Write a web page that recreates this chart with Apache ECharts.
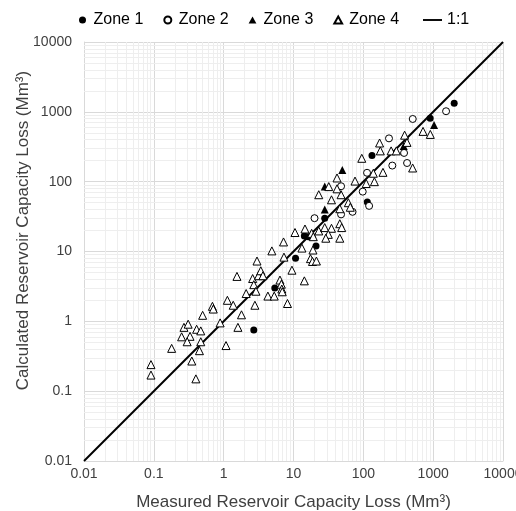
<!DOCTYPE html>
<html>
<head>
<meta charset="utf-8">
<script src="https://cdn.jsdelivr.net/npm/echarts@6/dist/echarts.min.js"></script>
<style>
  html, body { margin: 0; padding: 0; background: #fff; }
  #chart { width: 516px; height: 511px; }
</style>
</head>
<body>
<div id="chart"></div>
<script>
// measured vs calculated capacity loss, [measured, calculated] in Mm3
var zone1 = [
  [2.7, 0.75], [5.4, 3.0], [10.7, 8.0], [14.3, 16.7], [16.3, 16.3],
  [21, 12], [28, 30], [114, 51], [133, 236], [906, 806], [2000, 1330]
]
var zone2 = [
  [20, 30], [48, 34], [48, 86], [70, 37], [98, 72], [113, 134],
  [121, 45], [233, 417], [383, 258], [260, 170], [423, 185],
  [510, 790], [1530, 1020]
]
var zone3 = [
  [50, 147], [28, 85], [28, 40], [1030, 650], [378, 325]
]
var zone4 = [
  [0.091, 0.24], [0.091, 0.17], [0.18, 0.41], [0.25, 0.6], [0.27, 0.82],
  [0.31, 0.91], [0.33, 0.61], [0.30, 0.51], [0.41, 0.77], [0.47, 0.73],
  [0.47, 0.51], [0.45, 0.38], [0.35, 0.27], [0.40, 0.15], [0.5, 1.22],
  [0.69, 1.64], [0.71, 1.5], [0.89, 0.95], [1.08, 0.45], [1.13, 2.0],
  [1.37, 1.7], [1.6, 0.82], [1.8, 1.24], [1.55, 4.4], [2.1, 2.5],
  [2.8, 1.7], [2.6, 4.1], [2.7, 3.35], [2.9, 2.7], [3.0, 7.3],
  [3.15, 4.5], [3.4, 5.3], [3.65, 4.5], [4.3, 2.3], [4.9, 10.2],
  [5.3, 2.3], [6.4, 3.9], [6.7, 3.4], [6.8, 2.9], [6.9, 2.65],
  [7.2, 13.7], [7.3, 8.3], [8.2, 1.8], [9.5, 5.4], [13.2, 11.2],
  [14.3, 3.8], [17.5, 7.9], [18.7, 7.2], [21.3, 7.3], [14.6, 21],
  [10.5, 18.7], [18.2, 18.2], [19.2, 16.3], [23, 19.7], [28, 22],
  [35, 21.5], [31.5, 17.6], [29, 15.5], [46, 15.5], [46, 25],
  [49, 22], [23, 65], [35, 55], [48, 65], [46, 41],
  [42, 113], [42, 79], [32, 85], [61, 50], [65, 43],
  [76, 102], [95, 216], [110, 94], [144, 100], [139, 132],
  [191, 136], [175, 276], [250, 276], [297, 276], [171, 358],
  [508, 157], [390, 463], [422, 365], [716, 525], [910, 475],
  [19, 10.5]
]
var oneToOne = [[0.01, 0.01], [10000, 10000]]
var axisMin = 0.01
var axisMax = 10000

// light minor grid (2..9 of every decade)
var minorX = []
var minorY = []
for (var d = axisMin; d < axisMax; d *= 10) {
  for (var k = 2; k <= 9; k++) {
    var v = +(k * d).toPrecision(3)
    minorX.push({ xAxis: v })
    minorY.push({ yAxis: v })
  }
}

var textColor = '#404040'
var font = 'Liberation Sans, Arial, sans-serif'
var triIcon = 'path://M5,0 L10,9 L0,9 Z'

function plainNum(val) {
  return String(+(+val).toPrecision(6))
}

var chart = echarts.init(document.getElementById('chart'))
chart.setOption({
  animation: false,
  legend: [
    {
      top: 7,
      left: 74,
      itemGap: 20,
      itemWidth: 12,
      itemHeight: 7,
      textStyle: { fontSize: 16, color: '#000', fontFamily: font },
      data: [
        { name: 'Zone 1', icon: 'circle' },
        { name: 'Zone 2', icon: 'circle' },
        { name: 'Zone 3', icon: triIcon },
        { name: 'Zone 4', icon: triIcon }
      ]
    },
    {
      top: 7,
      left: 418,
      itemWidth: 19,
      itemHeight: 7,
      textStyle: { fontSize: 16, color: '#000', fontFamily: font },
      data: [{ name: '1:1', icon: 'path://M0,0 L20,0 L20,2 L0,2 Z' }]
    }
  ],
  grid: { left: 84, right: 13, top: 42, bottom: 50, outerBoundsMode: 'none', containLabel: false },
  xAxis: {
    type: 'log',
    logBase: 10,
    min: axisMin,
    max: axisMax,
    z: 0,
    name: 'Measured Reservoir Capacity Loss (Mm³)',
    nameLocation: 'middle',
    nameMoveOverlap: false,
    nameGap: 33,
    nameTextStyle: { fontSize: 17, color: textColor, fontFamily: font },
    axisLine: { lineStyle: { color: '#d9d9d9' } },
    axisTick: { show: false },
    axisLabel: { fontSize: 14, color: textColor, fontFamily: font, margin: 6, formatter: plainNum },
    splitLine: { show: true, lineStyle: { color: '#d9d9d9' } }
  },
  yAxis: {
    type: 'log',
    logBase: 10,
    min: axisMin,
    max: axisMax,
    z: 0,
    name: 'Calculated Reservoir Capacity Loss (Mm³)',
    nameLocation: 'middle',
    nameMoveOverlap: false,
    nameGap: 52,
    nameTextStyle: { fontSize: 17, color: textColor, fontFamily: font, padding: [0, 0, 0, 42] },
    axisLine: { lineStyle: { color: '#d9d9d9' } },
    axisTick: { show: false },
    axisLabel: { fontSize: 14, color: textColor, fontFamily: font, margin: 12, formatter: plainNum },
    splitLine: { show: true, lineStyle: { color: '#d9d9d9' } }
  },
  series: [
    {
      name: 'minor',
      type: 'line',
      data: [],
      silent: true,
      z: 1,
      markLine: {
        silent: true,
        z: 1,
        symbol: 'none',
        label: { show: false },
        emphasis: { disabled: true },
        lineStyle: { color: '#eeeeee', width: 1, type: 'solid' },
        data: minorX.concat(minorY)
      }
    },
    {
      name: '1:1',
      type: 'line',
      data: oneToOne,
      symbol: 'none',
      z: 4,
      lineStyle: { color: '#000', width: 2 },
      itemStyle: { color: '#000' }
    },
    {
      name: 'Zone 1',
      type: 'scatter',
      data: zone1,
      symbol: 'circle',
      symbolSize: 7,
      z: 5,
      itemStyle: { color: '#000', opacity: 1 }
    },
    {
      name: 'Zone 2',
      type: 'scatter',
      data: zone2,
      symbol: 'circle',
      symbolSize: 7,
      z: 5,
      itemStyle: { color: '#fff', borderColor: '#000', borderWidth: 1, opacity: 1 }
    },
    {
      name: 'Zone 3',
      type: 'scatter',
      data: zone3,
      symbol: 'triangle',
      symbolSize: 8,
      z: 5,
      itemStyle: { color: '#000', opacity: 1 }
    },
    {
      name: 'Zone 4',
      type: 'scatter',
      data: zone4,
      symbol: 'triangle',
      symbolSize: 8,
      z: 5,
      itemStyle: { color: '#fff', borderColor: '#000', borderWidth: 1, opacity: 1 }
    }
  ]
})
</script>
</body>
</html>
